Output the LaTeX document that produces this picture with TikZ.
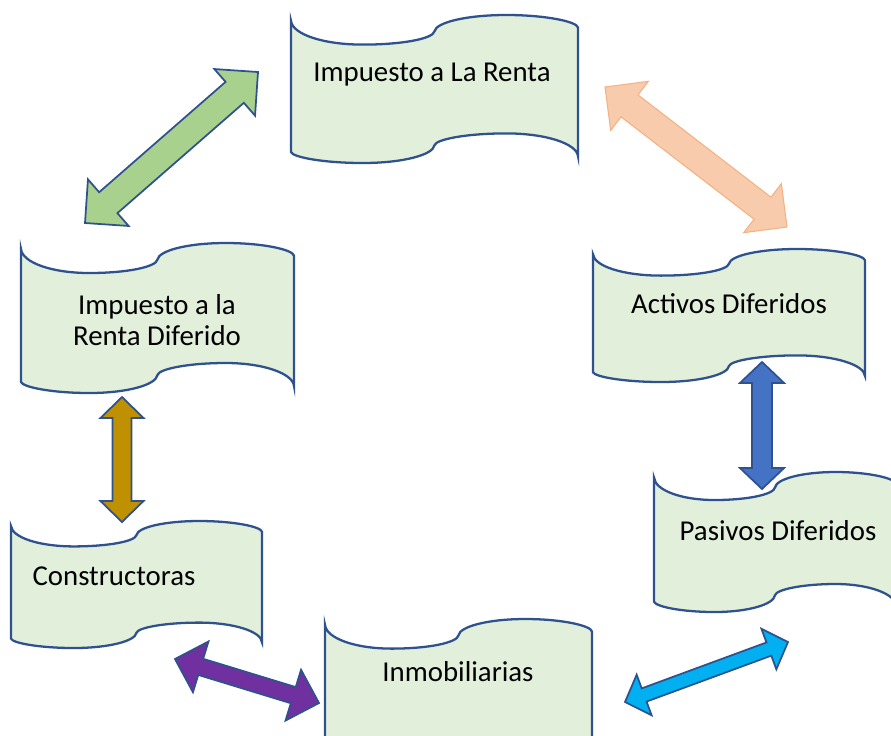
\documentclass[tikz,border=0pt]{standalone}
\usepackage{fontspec}
\setmainfont{Carlito}
\usepackage{xcolor}
\usetikzlibrary{calc}

\definecolor{boxfill}{HTML}{E2EFDA}
\definecolor{boxline}{HTML}{2F528F}
\definecolor{arrgreen}{HTML}{A9D18E}
\definecolor{arrorange}{HTML}{F8CBAD}
\definecolor{arrorangeline}{HTML}{F4B183}
\definecolor{arrgold}{HTML}{BF9000}
\definecolor{arrblue}{HTML}{4472C4}
\definecolor{arrpurple}{HTML}{7030A0}
\definecolor{arrcyan}{HTML}{00B0F0}

\tikzset{
  wave/.style={draw=boxline, fill=boxfill, line width=1.3pt},
  boxtext/.style={font=\fontsize{16.4}{18.1}\selectfont, inner sep=0pt, align=center},
  blockarrow/.style={draw=boxline, line width=1pt, line join=miter},
}

% wave banner: left, top, width, height (pixels)
\newcommand{\wavebox}[4]{%
  \begin{scope}[shift={(#1,#2)}, xscale=#3, yscale=#4]
    \draw[wave] (0,0.04) .. controls (0.005,0.13) and (0.112,0.2) .. (0.25,0.2)
      .. controls (0.388,0.2) and (0.495,0.16) .. (0.5,0.11)
      .. controls (0.505,0.05) and (0.612,0) .. (0.75,0)
      .. controls (0.888,0) and (0.997,0.045) .. (1,0.085)
      -- (1,0.955)
      .. controls (0.997,0.87) and (0.888,0.8) .. (0.75,0.8)
      .. controls (0.612,0.8) and (0.505,0.84) .. (0.5,0.88)
      .. controls (0.495,0.946) and (0.388,1) .. (0.25,1)
      .. controls (0.112,1) and (0.005,0.96) .. (0,0.926) -- cycle;
  \end{scope}}

% double block arrow: style, from, to, head length, head half width, shaft half width
\newcommand{\dblarrow}[6]{%
  \draw[blockarrow,#1] (#2)
    -- ($(#2)!#4!(#3)!#5!90:(#3)$) -- ($(#2)!#4!(#3)!#6!90:(#3)$)
    -- ($(#3)!#4!(#2)!#6!-90:(#2)$) -- ($(#3)!#4!(#2)!#5!-90:(#2)$)
    -- (#3)
    -- ($(#3)!#4!(#2)!#5!90:(#2)$) -- ($(#3)!#4!(#2)!#6!90:(#2)$)
    -- ($(#2)!#4!(#3)!#6!-90:(#3)$) -- ($(#2)!#4!(#3)!#5!-90:(#3)$)
    -- cycle;}

\begin{document}
\begin{tikzpicture}[x=0.02cm, y=-0.02cm]
\clip (0,0) rectangle (891,735);

% Banners
\wavebox{291}{15}{287}{148}
\wavebox{21}{243}{273}{150}
\wavebox{593}{249}{272}{133}
\wavebox{654}{472}{242}{140}
\wavebox{11}{521}{251}{127}
\wavebox{325}{619}{267}{148}

% Texts
\node[boxtext] (irenta) at (432,75) {Impuesto a La Renta};
\node[boxtext] (irdif) at (157,320) {Impuesto a la\\Renta Diferido};
\node[boxtext] (activos) at (729,304) {Activos Diferidos};
\node[boxtext] (pasivos) at (778,531) {Pasivos Diferidos};
\node[boxtext] (constr) at (114,576) {Constructoras};
\node[boxtext] (inmob) at (458,672) {Inmobiliarias};

% Arrow ends
\coordinate (gA) at (85,223);
\coordinate (gB) at (258,72);
\coordinate (oA) at (605,87);
\coordinate (oB) at (787,227);
\coordinate (dA) at (122,397);
\coordinate (dB) at (122,522);
\coordinate (bA) at (762,362);
\coordinate (bB) at (762,489);
\coordinate (pA) at (175,659);
\coordinate (pB) at (319,703);
\coordinate (cA) at (625,702);
\coordinate (cB) at (788,642);

% Double arrows
\dblarrow{fill=arrgreen}{gA}{gB}{17.6pt}{17.6pt}{7.9pt}
\dblarrow{fill=arrorange,draw=arrorangeline,line width=0.6pt}{oA}{oB}{17.6pt}{17.6pt}{7.9pt}
\dblarrow{fill=arrgold}{dA}{dB}{11.9pt}{12.2pt}{5.4pt}
\dblarrow{fill=arrblue}{bA}{bB}{11.9pt}{12.5pt}{5.7pt}
\dblarrow{fill=arrpurple}{pA}{pB}{15.3pt}{15.1pt}{4.8pt}
\dblarrow{fill=arrcyan}{cA}{cB}{11.6pt}{12.3pt}{4pt}
\end{tikzpicture}
\end{document}
